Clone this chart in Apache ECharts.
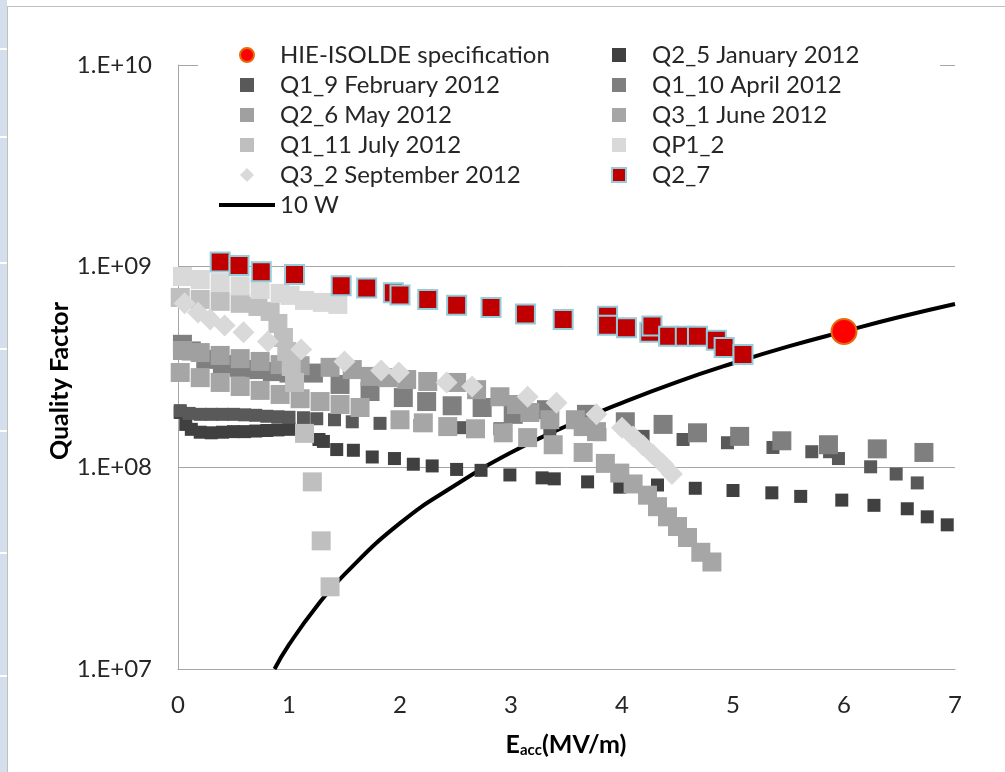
<!DOCTYPE html>
<html>
<head>
<meta charset="utf-8">
<script src="https://cdn.jsdelivr.net/npm/echarts@6/dist/echarts.min.js"></script>
<style>
  html, body { margin: 0; padding: 0; background: #fff; }
  #chart { width: 1005px; height: 772px; }
</style>
</head>
<body>
<div id="chart"></div>
<script>
// E_acc (MV/m) and quality factor for each test
const hieE = [6.0]
const hieQ = [4.75e8]

const janE = [0.02, 0.07, 0.12, 0.2, 0.3, 0.4, 0.5, 0.6, 0.7, 0.8, 0.9, 1.0, 1.27, 1.31, 1.43, 1.58, 1.75, 1.95, 2.12, 2.29, 2.51, 2.73, 2.99, 3.28, 3.39, 3.69, 3.98, 4.32, 4.66, 5.0, 5.35, 5.61, 5.98, 6.27, 6.57, 6.75, 6.93]
const janQ = [1.88e8, 1.64e8, 1.55e8, 1.5e8, 1.49e8, 1.5e8, 1.51e8, 1.51e8, 1.52e8, 1.53e8, 1.54e8, 1.55e8, 1.38e8, 1.35e8, 1.23e8, 1.22e8, 1.13e8, 1.11e8, 1.04e8, 1.02e8, 9.8e7, 9.7e7, 9.2e7, 8.9e7, 8.8e7, 8.5e7, 8.0e7, 8.2e7, 7.9e7, 7.7e7, 7.5e7, 7.2e7, 6.9e7, 6.5e7, 6.25e7, 5.7e7, 5.2e7]

const febE = [0.02, 0.1, 0.2, 0.3, 0.4, 0.5, 0.6, 0.7, 0.8, 0.9, 1.0, 1.13, 1.25, 1.41, 1.57, 1.82, 2.18, 2.54, 2.9, 3.35, 3.8, 4.19, 4.55, 4.95, 5.36, 5.71, 5.87, 5.95, 6.24, 6.47, 6.66]
const febQ = [1.92e8, 1.86e8, 1.84e8, 1.84e8, 1.84e8, 1.84e8, 1.83e8, 1.82e8, 1.8e8, 1.79e8, 1.78e8, 1.77e8, 1.75e8, 1.73e8, 1.69e8, 1.66e8, 1.62e8, 1.58e8, 1.56e8, 1.55e8, 1.46e8, 1.43e8, 1.38e8, 1.33e8, 1.26e8, 1.2e8, 1.2e8, 1.11e8, 1.01e8, 9.3e7, 8.4e7]

const aprE = [0.04, 0.12, 0.25, 0.4, 0.55, 0.7, 0.85, 1.0, 1.22, 1.46, 1.73, 2.03, 2.24, 2.47, 2.74, 3.02, 3.32, 3.68, 4.03, 4.37, 4.68, 5.06, 5.44, 5.86, 6.3, 6.72]
const aprQ = [4.1e8, 3.8e8, 3.45e8, 3.25e8, 3.15e8, 3.07e8, 3.0e8, 2.95e8, 2.95e8, 2.59e8, 2.39e8, 2.23e8, 2.13e8, 2.03e8, 1.99e8, 1.84e8, 1.94e8, 1.84e8, 1.69e8, 1.64e8, 1.49e8, 1.43e8, 1.36e8, 1.3e8, 1.24e8, 1.19e8]

const mayE = [0.04, 0.2, 0.38, 0.56, 0.74, 0.92, 1.1, 1.37, 1.57, 1.73, 1.89, 2.06, 2.25, 2.51, 2.69, 2.9, 3.05, 3.17, 3.35, 3.58, 3.65, 3.77]
const mayQ = [3.82e8, 3.73e8, 3.61e8, 3.48e8, 3.37e8, 3.25e8, 3.21e8, 3.15e8, 3.07e8, 2.84e8, 2.8e8, 2.74e8, 2.68e8, 2.65e8, 2.44e8, 2.25e8, 2.06e8, 1.88e8, 1.73e8, 1.73e8, 1.6e8, 1.51e8]

const junE = [0.02, 0.2, 0.38, 0.56, 0.74, 0.92, 1.1, 1.28, 1.46, 1.64, 2.0, 2.21, 2.43, 2.68, 2.93, 3.15, 3.38, 3.65, 3.85, 3.98, 4.1, 4.23, 4.32, 4.41, 4.5, 4.59, 4.71, 4.81]
const junQ = [2.97e8, 2.8e8, 2.65e8, 2.53e8, 2.42e8, 2.31e8, 2.2e8, 2.13e8, 2.06e8, 1.99e8, 1.73e8, 1.67e8, 1.6e8, 1.56e8, 1.49e8, 1.41e8, 1.3e8, 1.19e8, 1.05e8, 9.4e7, 8.3e7, 7.3e7, 6.4e7, 5.7e7, 5.1e7, 4.5e7, 3.8e7, 3.4e7]

const julE = [0.02, 0.2, 0.38, 0.56, 0.72, 0.83, 0.9, 0.95, 0.98, 1.02, 1.05, 1.14, 1.21, 1.29, 1.37]
const julQ = [7.0e8, 6.85e8, 6.7e8, 6.55e8, 6.32e8, 5.97e8, 5.2e8, 4.43e8, 3.78e8, 3.18e8, 2.65e8, 1.48e8, 8.5e7, 4.33e7, 2.56e7]

const qp1E = [0.04, 0.2, 0.38, 0.56, 0.74, 0.92, 1.01, 1.14, 1.3, 1.44]
const qp1Q = [8.9e8, 8.6e8, 8.3e8, 8.0e8, 7.68e8, 7.34e8, 7.17e8, 6.77e8, 6.62e8, 6.47e8]

const sepE = [0.06, 0.18, 0.29, 0.42, 0.59, 0.81, 1.11, 1.5, 1.83, 1.99, 2.42, 2.65, 3.15, 3.41, 3.77, 4.0, 4.1, 4.19, 4.28, 4.37, 4.45]
const sepQ = [6.55e8, 5.9e8, 5.45e8, 5.09e8, 4.7e8, 4.23e8, 3.86e8, 3.37e8, 3.04e8, 2.97e8, 2.65e8, 2.53e8, 2.25e8, 2.1e8, 1.84e8, 1.58e8, 1.43e8, 1.29e8, 1.16e8, 1.04e8, 9.3e7]

const q27E = [0.38, 0.55, 0.75, 1.05, 1.47, 1.7, 1.94, 2.0, 2.25, 2.51, 2.82, 3.13, 3.47, 3.87, 3.87, 4.04, 4.25, 4.27, 4.42, 4.57, 4.68, 4.85, 4.92, 5.09]
const q27Q = [1.05e9, 1.01e9, 9.4e8, 9.1e8, 8.0e8, 7.8e8, 7.4e8, 7.2e8, 6.85e8, 6.4e8, 6.25e8, 5.8e8, 5.45e8, 5.65e8, 5.1e8, 4.95e8, 4.7e8, 5.05e8, 4.5e8, 4.5e8, 4.5e8, 4.3e8, 3.95e8, 3.65e8]

const wE = [0.87, 1.0, 1.25, 1.5, 2.0, 2.5, 3.0, 3.5, 4.0, 4.5, 5.0, 5.5, 6.0, 6.5, 7.0]
const wQ = [1.0e7, 1.32e7, 2.05e7, 2.95e7, 5.3e7, 8.2e7, 1.19e8, 1.61e8, 2.1e8, 2.67e8, 3.3e8, 4.0e8, 4.75e8, 5.6e8, 6.5e8]

const xTicks = [0, 1, 2, 3, 4, 5, 6, 7]

const legendLeft = ['HIE-ISOLDE specification', 'Q1_9 February 2012', 'Q2_6 May 2012', 'Q1_11 July 2012', 'Q3_2 September 2012', '10 W']
const legendRight = ['Q2_5 January 2012', 'Q1_10 April 2012', 'Q3_1 June 2012', 'QP1_2', 'Q2_7']

function pair(xs, ys) {
  return xs.map((x, i) => [x, ys[i]])
}

const FONT = 'Lato, "Open Sans", sans-serif'
// legend icons as paths so they stay square inside the wide icon box
const SQUARE = 'path://M0,0L10,0L10,10L0,10Z'
const DIAMOND = 'path://M5,0L10,5L5,10L0,5Z'

function legendItem(name) {
  if (name === '10 W') {
    // line only, the dot is hidden
    return { name: name, itemStyle: { opacity: 0 }, lineStyle: { width: 4, color: '#000' } }
  }
  if (name === 'HIE-ISOLDE specification') return { name: name, icon: 'circle' }
  if (name === 'Q3_2 September 2012') return { name: name, icon: DIAMOND }
  return { name: name, icon: SQUARE }
}

function dots(name, xs, ys, color, size, symbol) {
  return {
    name: name,
    type: 'scatter',
    symbol: symbol || 'rect',
    symbolSize: size,
    itemStyle: { color: color, opacity: 1 },
    emphasis: { disabled: true },
    data: pair(xs, ys)
  }
}

let chart = echarts.init(document.getElementById('chart'))
chart.setOption({
  animation: false,
  backgroundColor: '#fff',
  textStyle: { fontFamily: FONT },
  grid: { left: 178, right: 50, top: 65, bottom: 103 },
  xAxis: {
    type: 'value',
    min: xTicks[0],
    max: xTicks[xTicks.length - 1],
    interval: 1,
    axisLine: { lineStyle: { color: '#a6a6a6', width: 1 } },
    axisTick: { show: false },
    splitLine: { show: false },
    axisLabel: { color: '#262626', fontSize: 24, fontFamily: FONT, margin: 24 }
  },
  yAxis: {
    type: 'log',
    logBase: 10,
    min: 1e7,
    max: 1e10,
    axisLine: { show: true, lineStyle: { color: '#a6a6a6', width: 1 } },
    axisTick: { show: false },
    splitLine: { show: true, lineStyle: { color: '#a6a6a6', width: 1 } },
    axisLabel: {
      color: '#262626',
      fontSize: 24,
      fontFamily: FONT,
      margin: 26,
      formatter: function (v) {
        const p = Math.round(Math.log10(v))
        return '1.E+' + (p < 10 ? '0' + p : '' + p)
      }
    }
  },
  legend: [
    {
      data: legendLeft.map(legendItem),
      orient: 'vertical',
      left: 217,
      top: 42,
      padding: 0,
      itemWidth: 56,
      itemHeight: 14,
      itemGap: 4,
      selectedMode: false,
      textStyle: { fontSize: 24, lineHeight: 26, color: '#262626', fontFamily: FONT }
    },
    {
      // box left is measured from the first drawn square, not the icon slot
      data: legendRight.map(legendItem),
      orient: 'vertical',
      left: 611,
      top: 42,
      padding: 0,
      itemWidth: 56,
      itemHeight: 14,
      itemGap: 4,
      selectedMode: false,
      textStyle: { fontSize: 24, lineHeight: 26, color: '#262626', fontFamily: FONT }
    }
  ],
  graphic: [
    // spreadsheet strip and frame around the chart
    { type: 'rect', shape: { x: 0, y: 0, width: 7, height: 772 }, style: { fill: '#d5deeb' }, z: 1 },
    { type: 'rect', shape: { x: 0, y: 48, width: 7, height: 2 }, style: { fill: '#fff' }, z: 1 },
    { type: 'rect', shape: { x: 0, y: 136, width: 7, height: 2 }, style: { fill: '#fff' }, z: 1 },
    { type: 'rect', shape: { x: 0, y: 262, width: 7, height: 2 }, style: { fill: '#fff' }, z: 1 },
    { type: 'rect', shape: { x: 0, y: 348, width: 7, height: 2 }, style: { fill: '#fff' }, z: 1 },
    { type: 'rect', shape: { x: 0, y: 430, width: 7, height: 2 }, style: { fill: '#fff' }, z: 1 },
    { type: 'rect', shape: { x: 0, y: 552, width: 7, height: 2 }, style: { fill: '#fff' }, z: 1 },
    { type: 'rect', shape: { x: 0, y: 675, width: 7, height: 2 }, style: { fill: '#fff' }, z: 1 },
    { type: 'line', shape: { x1: 7.5, y1: 6, x2: 7.5, y2: 772 }, style: { stroke: '#bfbfbf', lineWidth: 1 }, z: 1 },
    { type: 'line', shape: { x1: 7, y1: 6.5, x2: 1005, y2: 6.5 }, style: { stroke: '#bfbfbf', lineWidth: 1 }, z: 1 },
    // white box behind the legend hides the top grid line
    { type: 'rect', shape: { x: 198, y: 44, width: 742, height: 40 }, style: { fill: '#fff' }, z: 3 },
    {
      type: 'text',
      x: 60,
      y: 381,
      rotation: Math.PI / 2,
      style: {
        text: 'Quality Factor',
        fill: '#000',
        fontSize: 25,
        fontWeight: 'bold',
        fontFamily: FONT,
        align: 'center',
        verticalAlign: 'middle'
      },
      z: 5
    },
    {
      type: 'text',
      x: 566,
      y: 745,
      style: {
        text: '{b|E}{s|acc}{b|(MV/m)}',
        fill: '#000',
        align: 'center',
        verticalAlign: 'middle',
        rich: {
          b: { fontSize: 25, fontWeight: 'bold', fontFamily: FONT, fill: '#000' },
          s: { fontSize: 15, fontWeight: 'bold', fontFamily: FONT, fill: '#000', padding: [10, 0, 0, 0] }
        }
      },
      z: 5
    }
  ],
  series: [
    {
      name: '10 W',
      type: 'line',
      smooth: true,
      symbol: 'none',
      lineStyle: { color: '#000', width: 4 },
      itemStyle: { color: '#000' },
      emphasis: { disabled: true },
      z: 1,
      data: pair(wE, wQ)
    },
    {
      name: 'HIE-ISOLDE specification',
      type: 'scatter',
      symbol: 'circle',
      symbolSize: 25,
      itemStyle: { color: '#ff0000', borderColor: '#e46c0a', borderWidth: 2, opacity: 1 },
      emphasis: { disabled: true },
      z: 3,
      data: pair(hieE, hieQ)
    },
    dots('Q2_5 January 2012', janE, janQ, '#404040', 13),
    dots('Q1_9 February 2012', febE, febQ, '#595959', 13),
    dots('Q1_10 April 2012', aprE, aprQ, '#7f7f7f', 19),
    dots('Q2_6 May 2012', mayE, mayQ, '#a0a0a0', 19),
    dots('Q3_1 June 2012', junE, junQ, '#a6a6a6', 19),
    dots('Q1_11 July 2012', julE, julQ, '#bfbfbf', 19),
    dots('QP1_2', qp1E, qp1Q, '#d9d9d9', 19),
    dots('Q3_2 September 2012', sepE, sepQ, '#d9d9d9', 22, 'diamond'),
    {
      name: 'Q2_7',
      type: 'scatter',
      symbol: 'rect',
      symbolSize: 19,
      itemStyle: { color: '#c00000', borderColor: '#92cddc', borderWidth: 2, opacity: 1 },
      emphasis: { disabled: true },
      data: pair(q27E, q27Q)
    }
  ]
})
</script>
</body>
</html>
